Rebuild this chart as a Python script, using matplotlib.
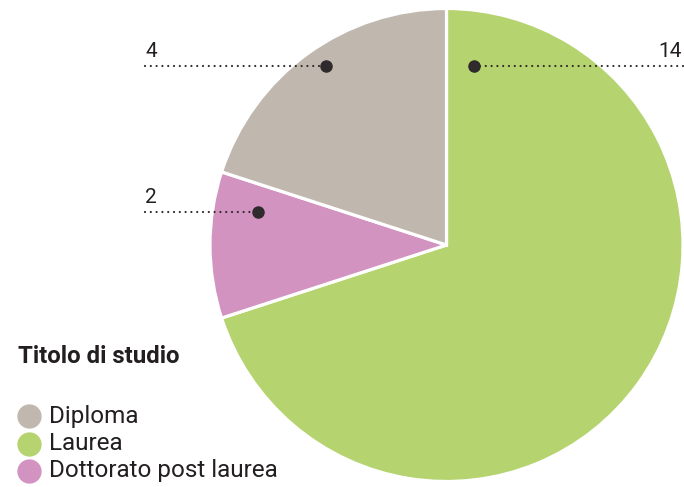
import numpy as np
import matplotlib
matplotlib.use("Agg")
from matplotlib import pyplot as plt

plt.rcParams['font.family'] = ['Roboto', 'DejaVu Sans']

# data
categories = ["Laurea", "Dottorato post laurea", "Diploma"]
values = [14, 2, 4]
colours = ["#b5d36f", "#d393c1", "#c0b8ae"]
legend_order = ["Diploma", "Laurea", "Dottorato post laurea"]

W, H = 684, 487
fig = plt.figure(figsize=(W / 100, H / 100), dpi=100)
ax = fig.add_axes([0, 0, 1, 1])

cx, cy, r = 446.5, H - 245, 236.5
ax.pie(values, colors=colours, startangle=90, counterclock=False,
       center=(cx, cy), radius=r, frame=True,
       wedgeprops=dict(edgecolor="white", linewidth=2.3))
ax.set_xlim(0, W)
ax.set_ylim(0, H)
ax.set_aspect("equal")
ax.axis("off")

# callouts: (category, dot angle deg, dot radius, line end x, text align)
callouts = [
    ("Diploma", 124.0, 216, 145, "left"),
    ("Laurea", 81.4, 181, 683, "right"),
    ("Dottorato post laurea", 170.0, 191, 145, "left"),
]
dark = "#2f2a2b"
for name, ang, rad, xend, ha in callouts:
    v = values[categories.index(name)]
    a = np.deg2rad(ang)
    px, py = cx + rad * np.cos(a), cy + rad * np.sin(a)
    ax.plot([xend, px], [py, py], color=dark, lw=1.6, ls=(0, (0.01, 2.6)),
            dash_capstyle="round", zorder=5)
    ax.plot(px, py, "o", color=dark, ms=8, zorder=6)
    ax.text(xend if ha == "left" else xend - 1, py + 5, str(v), ha=ha,
            va="bottom", fontsize=15, color="#231f20")

# legend
ax.text(18, H - 363, "Titolo di studio", fontsize=17.3, fontweight="bold",
        color="#231f20", va="baseline")
for i, name in enumerate(legend_order):
    y = H - (416 + i * 27.5)
    ax.plot(29, y, "o", ms=16.5, color=colours[categories.index(name)],
            clip_on=False)
    ax.text(49, y, name, fontsize=17.5, color="#231f20", va="center")

fig.savefig("out.png", dpi=100)
